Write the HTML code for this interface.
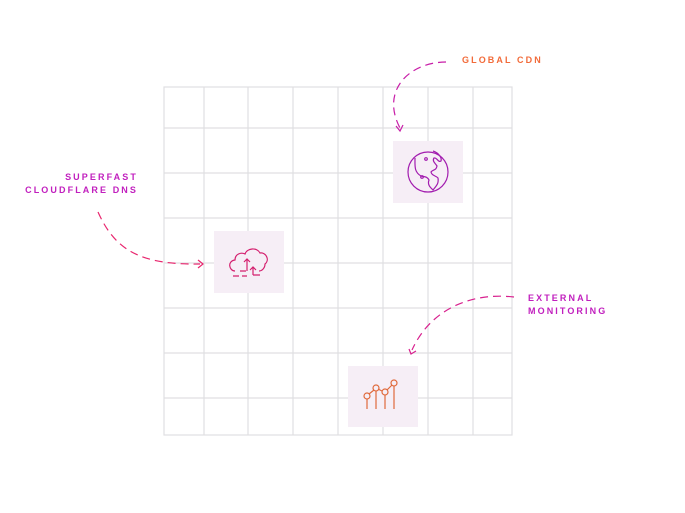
<!DOCTYPE html>
<html><head><style>
body{margin:0;background:#fff;width:685px;height:513px;overflow:hidden;position:relative;font-family:"Liberation Sans",sans-serif}
.l{position:absolute;font-size:9px;font-weight:bold;letter-spacing:2.1px;line-height:12.5px}
</style></head><body>
<svg width="685" height="513" style="position:absolute;left:0;top:0">
<g stroke="#e0dfe2" stroke-width="1.2" fill="none">
<rect x="164" y="87" width="348" height="348"/>
<path d="M204 87V435M248 87V435M293 87V435M338 87V435M383 87V435M428 87V435M473 87V435"/>
<path d="M164 128H512M164 173H512M164 218H512M164 263H512M164 308H512M164 353H512M164 398H512"/>
</g>
<rect x="393" y="141" width="70" height="62" fill="#f6eef6"/>
<rect x="214" y="231" width="70" height="62" fill="#f6eef6"/>
<rect x="348" y="366" width="70" height="61" fill="#f6eef6"/>
<g fill="none" stroke-width="1.2" stroke-dasharray="8 5">
<path d="M446 62C410 62 380 90 400 128" stroke="#c81ea8"/>
<path d="M98 212C115 250 140 265 200 264" stroke="#e8266e"/>
<path d="M514 297C470 292 430 310 412 350" stroke="#d8208e"/>
</g>
<path d="M396 126L400 131L403 125" fill="none" stroke="#c81ea8" stroke-width="1.2"/>
<path d="M198 260L203 264L198 268" fill="none" stroke="#e8266e" stroke-width="1.2"/>
<path d="M409 349L411 354L416 351" fill="none" stroke="#d8208e" stroke-width="1.2"/>
<g fill="none" stroke="#a21caf" stroke-width="1.2">
<circle cx="428" cy="172" r="20"/>
<path d="M415 158c0 8 -1 14 6 18c3 1 6 0 8 4c-2 5 2 8 4 10c3-4 6-6 5-12c-3-3-6-2-7-6c2-3 5-1 6-6c-2-3-5-5-3-8c3-1 4 5 7 3c1-3-2-8-8-10"/>
<circle cx="426" cy="159" r="1.3"/><circle cx="422" cy="177" r="1.3"/>
</g>
<g fill="none" stroke="#d41f6e" stroke-width="1.2">
<path d="M235 271c-6 0-8-10 0-11c0-6 6-8 10-6c2-6 12-7 15-1c6-1 10 7 5 11c0 4-3 7-6 7"/>
<path d="M247 271v-12M244 262l3-3l3 3M253 275v-8M250 270l3-3l3 3M253 275h7M246 271h-6M233 276h6M242 276h5"/>
</g>
<g fill="none" stroke="#e06a3c" stroke-width="1.2">
<circle cx="367" cy="396" r="3"/><circle cx="376" cy="388" r="3"/><circle cx="385" cy="392" r="3"/><circle cx="394" cy="383" r="3"/>
<path d="M369 394l5-4M378 389l4 2M387 390l5-5M367 399v10M376 391v18M385 395v14M394 386v23"/>
</g>
</svg>
<div class="l" style="left:462px;top:54px;color:#f26b3a">GLOBAL CDN</div>
<div class="l" style="right:547px;top:171px;color:#c11fbe;text-align:right">SUPERFAST<br>CLOUDFLARE DNS</div>
<div class="l" style="left:528px;top:292px;color:#c11fbe">EXTERNAL<br>MONITORING</div>
</body></html>
